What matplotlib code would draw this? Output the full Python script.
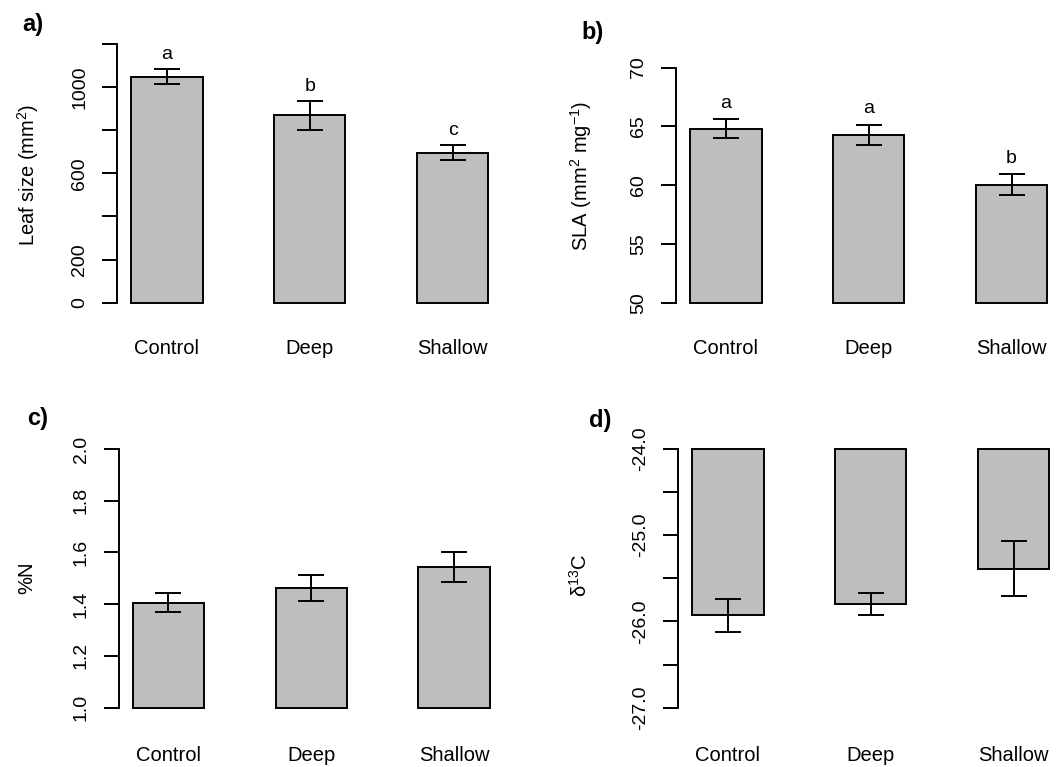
import numpy as np
import matplotlib
matplotlib.use("Agg")
from matplotlib import pyplot as plt

plt.rcParams['font.family'] = ['Liberation Sans', 'DejaVu Sans']
plt.rcParams['mathtext.fontset'] = 'custom'
plt.rcParams['mathtext.rm'] = 'Liberation Sans'
plt.rcParams['mathtext.it'] = 'Liberation Sans:italic'
plt.rcParams['mathtext.bf'] = 'Liberation Sans:bold'

# data (mean +/- se)
treatments = ["Control", "Deep", "Shallow"]

leaf_mean = [1049, 869, 696]
leaf_se = [35, 67, 36]
leaf_letters = ["a", "b", "c"]

sla_mean = [64.8, 64.27, 60.04]
sla_se = [0.82, 0.88, 0.88]
sla_letters = ["a", "a", "b"]

n_mean = [1.405, 1.462, 1.543]
n_se = [0.037, 0.05, 0.059]

d13c_mean = [-25.93, -25.80, -25.39]
d13c_se = [0.19, 0.13, 0.32]

W, H = 1058, 767
fig = plt.figure(figsize=(W / 100, H / 100), dpi=100)


def px(x, y):
    # pixel position -> figure fraction
    return x / W, 1 - y / H


def panel(left, top, bottom, means, ses, ylim, ticks, ticklabels, base,
          letters=None, letter_pad=0, xpad=19):
    width = 5.4 * 71.4
    ax = fig.add_axes([left / W, 1 - bottom / H, width / W, (bottom - top) / H])
    x = 1.5 + 2 * np.arange(len(means))
    means = np.array(means)
    ax.bar(x, means - base, width=1, bottom=base, color="#bebebe",
           edgecolor="black", linewidth=1.4, zorder=2)
    ax.errorbar(x, means, yerr=ses, fmt="none", ecolor="black",
                elinewidth=1.4, capsize=9.4, capthick=1.4, zorder=3)
    if letters is not None:
        for xi, m, s, lab in zip(x, means, ses, letters):
            ax.text(xi, m + s + letter_pad, lab, ha="center", va="baseline",
                    fontsize=14)
    ax.set_xlim(0.8, 6.2)
    ax.set_ylim(*ylim)
    for s in ["top", "right", "bottom"]:
        ax.spines[s].set_visible(False)
    ax.spines["left"].set_bounds(ticks[0], ticks[-1])
    ax.spines["left"].set_linewidth(1.4)
    ax.set_yticks(ticks)
    ax.set_yticklabels(ticklabels, rotation=90, va="center")
    ax.tick_params(axis="y", length=10.6, width=1.4, pad=10, labelsize=14)
    ax.set_xticks(x)
    ax.set_xticklabels(treatments)
    ax.tick_params(axis="x", length=0, pad=xpad, labelsize=14.5)
    return ax


# a) leaf size
panel(117, 33.65, 313.05, leaf_mean, leaf_se, (-48, 1248),
      [0, 200, 400, 600, 800, 1000, 1200],
      ["0", "200", "", "600", "", "1000", ""], 0,
      leaf_letters, 48)

# b) SLA
panel(676, 33.65, 313.05, sla_mean, sla_se, (49.12, 72.88),
      [50, 55, 60, 65, 70], ["50", "55", "60", "65", "70"], 50,
      sla_letters, 0.95)

# c) %N
panel(118.5, 438.65, 718, n_mean, n_se, (0.96, 2.04),
      [1.0, 1.2, 1.4, 1.6, 1.8, 2.0],
      ["1.0", "1.2", "1.4", "1.6", "1.8", "2.0"], 1.0, xpad=20.5)

# d) d13C
panel(678, 438.65, 718, d13c_mean, d13c_se, (-27.12, -23.88),
      [-27, -26.5, -26, -25.5, -25, -24.5, -24],
      ["-27.0", "", "-26.0", "", "-25.0", "", "-24.0"], -24, xpad=20.5)

# axis titles
fig.text(*px(28, 175), "Leaf size (mm$^2$)", rotation=90, ha="center", va="center", fontsize=14.5)
fig.text(*px(581, 176), "SLA (mm$^2$ mg$^{-1}$)", rotation=90, ha="center", va="center", fontsize=14.5)
fig.text(*px(27, 578), "%N", rotation=90, ha="center", va="center", fontsize=14.5)
fig.text(*px(580, 575), "δ$^{13}$C", rotation=90, ha="center", va="center", fontsize=14.5)

# panel letters
for lab, (xx, yy) in zip(["a)", "b)", "c)", "d)"],
                         [(32.5, 24), (593, 32), (37.5, 418), (600, 421)]):
    fig.text(*px(xx, yy), lab, ha="center", va="center", fontsize=17, fontweight="bold")

fig.savefig("out.png", dpi=100)
